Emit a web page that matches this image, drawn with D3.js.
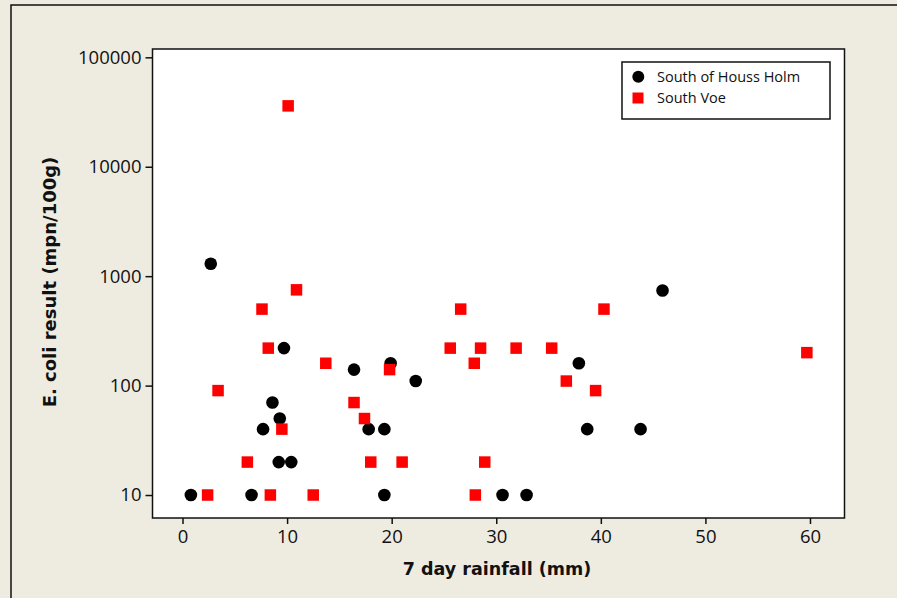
<!DOCTYPE html>
<html>
<head>
<meta charset="utf-8">
<script src="https://cdn.jsdelivr.net/npm/d3@7"></script>
<style>
  body { margin: 0; background: #eeebe1; }
  svg { display: block; }
  .tick text { font-family: "Open Sans", sans-serif; font-size: 18.5px; fill: #111; }
</style>
</head>
<body>
<div class="chart"></div>
<script>
// South of Houss Holm (circles)
const housRain = [0.8, 2.7, 6.6, 7.7, 8.6, 9.3, 9.2, 9.7, 10.4, 16.4, 17.8, 19.3, 19.3, 19.9, 22.3, 30.6, 32.9, 37.9, 38.7, 43.8, 45.9];
const housEcoli = [10, 1300, 10, 40, 70, 50, 20, 220, 20, 140, 40, 40, 10, 160, 110, 10, 10, 160, 40, 40, 740];
// South Voe (squares)
const voeRain = [2.4, 3.4, 6.2, 7.6, 8.2, 8.4, 9.5, 10.1, 10.9, 12.5, 13.7, 16.4, 17.4, 18.0, 19.8, 21.0, 25.6, 26.6, 27.9, 28.5, 28.0, 28.9, 31.9, 35.3, 36.7, 39.5, 40.3, 59.7];
const voeEcoli = [10, 90, 20, 500, 220, 10, 40, 36000, 750, 10, 160, 70, 50, 20, 140, 20, 220, 500, 160, 220, 10, 20, 220, 220, 110, 90, 500, 200];

const xTicks = [0, 10, 20, 30, 40, 50, 60];
const yTicks = [10, 100, 1000, 10000, 100000];
const seriesNames = ['South of Houss Holm', 'South Voe'];

const w = 897;
const h = 598;
const plot = { left: 152.5, right: 844.5, top: 49, bottom: 518 };

const svg = d3.select('.chart').append('svg').attr('width', w).attr('height', h);

// outer frame
svg.append('rect').attr('x', 11).attr('y', 5).attr('width', w + 20).attr('height', h + 20)
  .attr('fill', '#eeebe1').attr('stroke', '#111').attr('stroke-width', 1.5);

const xScale = d3.scaleLinear().domain([-2.87, 63.3]).range([plot.left, plot.right]);
const yScale = d3.scaleLog().domain([Math.pow(10, 0.79), Math.pow(10, 5.076)]).range([plot.bottom, plot.top]);

svg.append('rect').attr('x', plot.left).attr('y', plot.top)
  .attr('width', plot.right - plot.left).attr('height', plot.bottom - plot.top)
  .attr('fill', 'white').attr('stroke', '#111').attr('stroke-width', 1.5);

const xAxis = svg.append('g').attr('transform', `translate(0, ${plot.bottom})`)
  .call(d3.axisBottom(xScale).tickValues(xTicks).tickSize(6).tickPadding(6).tickFormat(d3.format('d')));
const yAxis = svg.append('g').attr('transform', `translate(${plot.left}, 0)`)
  .call(d3.axisLeft(yScale).tickValues(yTicks).tickSize(7).tickPadding(4).tickFormat(d3.format('d')));
[xAxis, yAxis].forEach(a => {
  a.select('.domain').remove();
  a.selectAll('.tick line').attr('stroke', '#111').attr('stroke-width', 1.5);
});

// markers
const hous = housRain.map((r, i) => [r, housEcoli[i]]);
const voe = voeRain.map((r, i) => [r, voeEcoli[i]]);

svg.append('g').selectAll('circle').data(hous).enter().append('circle')
  .attr('cx', d => xScale(d[0])).attr('cy', d => yScale(d[1])).attr('r', 6.3).attr('fill', 'black');

const sq = 11.5;
svg.append('g').selectAll('rect').data(voe).enter().append('rect')
  .attr('x', d => xScale(d[0]) - sq / 2).attr('y', d => yScale(d[1]) - sq / 2)
  .attr('width', sq).attr('height', sq).attr('fill', '#ff0000');

// axis titles
svg.append('text').attr('x', 497).attr('y', 575).attr('text-anchor', 'middle')
  .style('font-family', '"DejaVu Sans", sans-serif').style('font-weight', 'bold').style('font-size', '17.5px')
  .attr('fill', '#111').text('7 day rainfall (mm)');
svg.append('text').attr('transform', 'translate(56, 282) rotate(-90)').attr('text-anchor', 'middle')
  .style('font-family', '"DejaVu Sans", sans-serif').style('font-weight', 'bold').style('font-size', '18px')
  .attr('fill', '#111').text('E. coli result (mpn/100g)');

// legend
const legend = svg.append('g');
legend.append('rect').attr('x', 622).attr('y', 62).attr('width', 208).attr('height', 57)
  .attr('fill', 'white').attr('stroke', '#111').attr('stroke-width', 1.5);
legend.append('circle').attr('cx', 638.3).attr('cy', 76.7).attr('r', 6).attr('fill', 'black');
legend.append('rect').attr('x', 632.5).attr('y', 92.5).attr('width', 11).attr('height', 11).attr('fill', '#ff0000');
legend.selectAll('text.lbl').data(seriesNames).enter().append('text').attr('class', 'lbl')
  .attr('x', 657).attr('y', (d, i) => 77 + i * 21).attr('dy', '0.35em')
  .style('font-family', '"Open Sans", sans-serif').style('font-size', '14.5px').attr('fill', '#111')
  .text(d => d);
</script>
</body>
</html>
